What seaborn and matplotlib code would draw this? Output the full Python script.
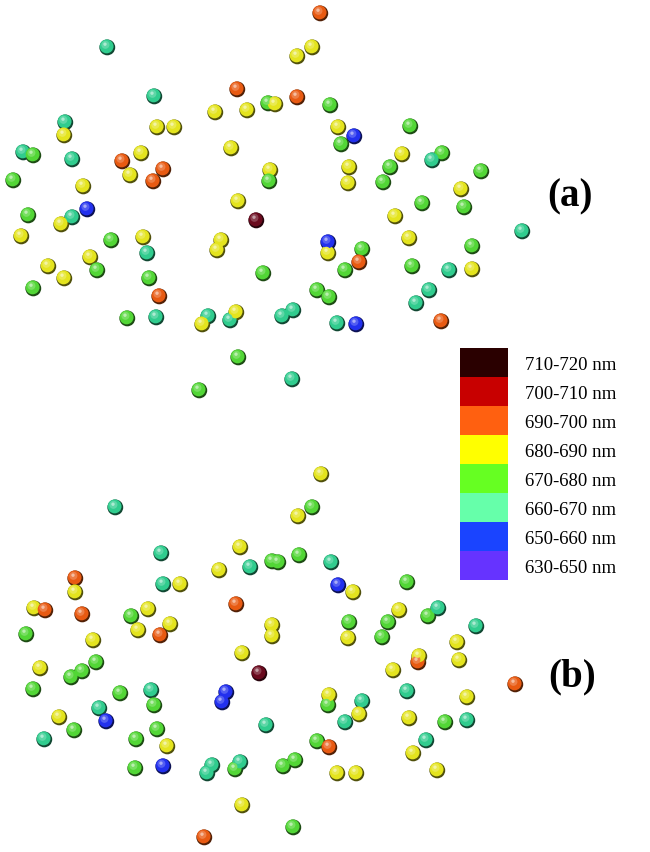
import numpy as np
import pandas as pd
import matplotlib.pyplot as plt
import matplotlib.colors as mcolors
import seaborn as sns

# wavelength bands (legend, top to bottom) and their legend colours
bands = ['710-720 nm', '700-710 nm', '690-700 nm', '680-690 nm',
         '670-680 nm', '660-670 nm', '650-660 nm', '630-650 nm']
legend_colors = ['#2a0000', '#c80000', '#ff6010', '#ffff00',
                 '#66ff22', '#66ffaa', '#1a44ff', '#6633ff']
# colour of the rendered spheres for each band
sphere_colors = ['#6a0a1e', '#cc1010', '#e85a12', '#e4e41e',
                 '#52d636', '#30cc8e', '#2230ee', '#6633ff']
code_band = {'dr': bands[0], 'r': bands[1], 'o': bands[2], 'y': bands[3],
             'g': bands[4], 'c': bands[5], 'b': bands[6], 'v': bands[7]}

# panel (a): pigment positions (picture pixels) and band code
a_x = [107, 154, 237, 215, 247, 268, 275, 65, 64, 157, 174, 231, 23, 33, 72, 122,
       141, 163, 130, 153, 13, 83, 270, 269, 238, 320, 312, 297, 297, 330, 338, 354,
       341, 410, 402, 442, 432, 390, 349, 348, 383, 481, 461, 422, 28, 87, 72, 61,
       21, 111, 143, 147, 48, 90, 97, 64, 33, 149, 159, 127, 156, 221, 217, 256,
       263, 208, 202, 230, 236, 238, 199, 464, 395, 522, 409, 328, 328, 362, 359, 345,
       472, 412, 449, 472, 317, 329, 429, 416, 282, 293, 337, 356, 441, 292]
a_y = [48, 97, 90, 113, 111, 104, 105, 123, 136, 128, 128, 149, 153, 156, 160, 162,
       154, 170, 176, 182, 181, 187, 171, 182, 202, 14, 48, 57, 98, 106, 128, 137,
       145, 127, 155, 154, 161, 168, 168, 184, 183, 172, 190, 204, 216, 210, 218, 225,
       237, 241, 238, 254, 267, 258, 271, 279, 289, 279, 297, 319, 318, 241, 251, 221,
       274, 317, 325, 321, 313, 358, 391, 208, 217, 232, 239, 254, 243, 250, 263, 271,
       247, 267, 271, 270, 291, 298, 291, 304, 317, 311, 324, 325, 322, 380]
a_code = ['c', 'c', 'o', 'y', 'y', 'g', 'y', 'c', 'y', 'y', 'y', 'y', 'c', 'g', 'c', 'o',
          'y', 'o', 'y', 'o', 'g', 'y', 'y', 'g', 'y', 'o', 'y', 'y', 'o', 'g', 'y', 'b',
          'g', 'g', 'y', 'g', 'c', 'g', 'y', 'y', 'g', 'g', 'y', 'g', 'g', 'b', 'c', 'y',
          'y', 'g', 'y', 'c', 'y', 'y', 'g', 'y', 'g', 'g', 'o', 'g', 'c', 'y', 'y', 'dr',
          'g', 'c', 'y', 'c', 'y', 'g', 'g', 'g', 'y', 'c', 'y', 'y', 'b', 'g', 'o', 'g',
          'g', 'g', 'c', 'y', 'g', 'g', 'c', 'c', 'c', 'c', 'c', 'b', 'o', 'c']

# panel (b)
b_x = [115, 161, 240, 219, 250, 272, 278, 75, 75, 163, 180, 34, 45, 82, 236, 148,
       131, 170, 138, 160, 26, 93, 242, 272, 272, 96, 40, 321, 312, 298, 299, 331,
       338, 353, 407, 399, 428, 438, 476, 388, 382, 349, 348, 457, 418, 419, 459, 259,
       71, 82, 33, 120, 151, 154, 99, 226, 222, 59, 106, 74, 44, 136, 157, 167,
       266, 135, 163, 212, 207, 235, 240, 242, 204, 393, 515, 407, 467, 328, 329, 362,
       359, 345, 409, 445, 467, 317, 329, 426, 413, 283, 295, 337, 356, 437, 293]
b_y = [508, 554, 548, 571, 568, 562, 563, 579, 593, 585, 585, 609, 611, 615, 605, 610,
       617, 625, 631, 636, 635, 641, 654, 626, 637, 663, 669, 475, 508, 517, 556, 563,
       586, 593, 583, 611, 617, 609, 627, 623, 638, 623, 639, 643, 663, 657, 661, 674,
       678, 672, 690, 694, 691, 706, 709, 693, 703, 718, 722, 731, 740, 740, 730, 747,
       726, 769, 767, 766, 774, 770, 763, 806, 838, 671, 685, 692, 698, 706, 696, 702,
       715, 723, 719, 723, 721, 742, 748, 741, 754, 767, 761, 774, 774, 771, 828]
b_code = ['c', 'c', 'y', 'y', 'c', 'g', 'g', 'o', 'y', 'c', 'y', 'y', 'o', 'o', 'o', 'y',
          'g', 'y', 'y', 'o', 'g', 'y', 'y', 'y', 'y', 'g', 'y', 'y', 'g', 'y', 'g', 'c',
          'b', 'y', 'g', 'y', 'g', 'c', 'c', 'g', 'g', 'g', 'y', 'y', 'o', 'y', 'y', 'dr',
          'g', 'g', 'g', 'g', 'c', 'g', 'c', 'b', 'b', 'y', 'b', 'g', 'c', 'g', 'g', 'y',
          'c', 'g', 'b', 'c', 'c', 'g', 'c', 'y', 'o', 'y', 'o', 'c', 'y', 'g', 'y', 'c',
          'y', 'c', 'y', 'g', 'c', 'g', 'o', 'c', 'y', 'g', 'g', 'y', 'y', 'y', 'g']

df = pd.DataFrame({'x': a_x + b_x, 'y': a_y + b_y,
                   'band': [code_band[c] for c in a_code + b_code]})


def shade(col, f):
    # f < 0 darkens, f > 0 mixes towards white
    rgb = np.array(mcolors.to_rgb(col))
    if f < 0:
        return tuple(rgb * (1 + f))
    return tuple(rgb + (1 - rgb) * f)


body = dict(zip(bands, sphere_colors))

fig = plt.figure(figsize=(6.5, 8.53), dpi=100)
ax = fig.add_axes([0, 0, 1, 1])

# fake 3D spheres: dark rim, body, soft highlight, specular dot
layers = [(-0.65, 130, 0.3, 0.4), (0.0, 100, -0.4, -0.6),
          (0.22, 34, -1.6, -2.2), (0.6, 6, -2.0, -2.8)]
for f, s, dx, dy in layers:
    sns.scatterplot(x=df['x'] + dx, y=df['y'] + dy, hue=df['band'],
                    palette={k: shade(v, f) for k, v in body.items()},
                    s=s, linewidth=0, legend=False, ax=ax)

ax.set_xlim(0, 650)
ax.set_ylim(853, 0)
ax.axis('off')

ax.text(570, 197, '(a)', fontsize=28, fontweight='bold', family='Liberation Serif',
        ha='center', va='center')
ax.text(572, 677, '(b)', fontsize=28, fontweight='bold', family='Liberation Serif',
        ha='center', va='center')

# colour key as a one-column heatmap
lax = fig.add_axes([460 / 650, 1 - 581 / 853, 48 / 650, 232 / 853])
sns.heatmap(np.arange(len(bands)).reshape(-1, 1), ax=lax, cbar=False,
            cmap=mcolors.ListedColormap(legend_colors), xticklabels=False,
            yticklabels=bands)
lax.yaxis.tick_right()
lax.tick_params(axis='y', length=0, pad=12)
for t in lax.get_yticklabels():
    t.set_rotation(0)
    t.set_fontfamily('Liberation Serif')
    t.set_fontsize(13.5)

fig.savefig('out.png', dpi=100)
